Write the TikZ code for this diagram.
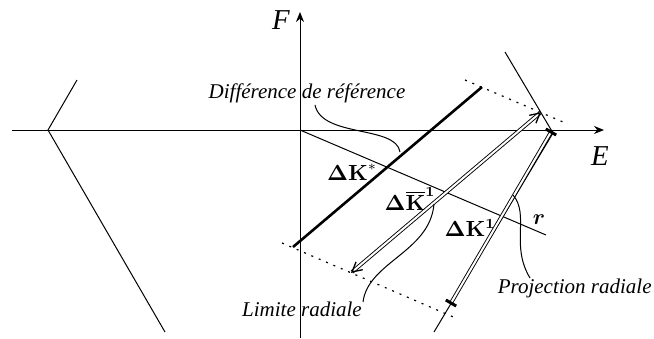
\documentclass[tikz,border=0pt]{standalone}
\usepackage{amsmath,bm}
\usepackage[no-math]{fontspec}
\setmainfont{Liberation Serif}
\usetikzlibrary{arrows.meta,calc}

\begin{document}
\begin{tikzpicture}[x=0.5pt, y=-0.5pt,
    axis/.style={line width=0.5pt, -{Stealth[length=5pt,width=4pt]}},
    guide/.style={line width=0.5pt},
    dotline/.style={line width=0.6pt, dash pattern=on 1pt off 3pt},
    vecline/.style={double, double distance=1pt, line width=0.45pt},
    chevron/.style={line width=0.65pt},
    leader/.style={line width=0.5pt},
    lbl/.style={font=\fontsize{10.5}{12}\selectfont\itshape, inner sep=0pt},
    axlbl/.style={font=\Large\itshape, inner sep=0pt},
    vlbl/.style={font=\fontsize{10.5}{12}\selectfont, inner sep=0pt},
    tickmark/.style={line width=1.5pt}]
  \useasboundingbox (0,0) rectangle (654,338);

  % Axes
  \coordinate (O) at (300,130);
  \coordinate (Ewest) at (12,130);
  \coordinate (Eeast) at (604,130);
  \coordinate (Fsouth) at (300,338);
  \coordinate (Fnorth) at (300,12);
  \draw[axis] (Ewest) -- (Eeast);
  \draw[axis] (Fsouth) -- (Fnorth);
  \node[axlbl] (labF) at (281,20) {F};
  \node[axlbl] (labE) at (600,156) {E};

  % Left and right boundaries
  \coordinate (Ltop) at (77,80);
  \coordinate (Lv) at (48,130);
  \coordinate (Lbot) at (165,332);
  \draw[guide] (Ltop) -- (Lv) -- (Lbot);
  \coordinate (Rtop) at (505,52);
  \coordinate (Rv) at (553,133);
  \coordinate (Rbot) at (434,332);
  \draw[guide] (Rtop) -- (Rv) -- (Rbot);

  % Radial direction
  \coordinate (Rend) at (546,235);
  \draw[guide] (O) -- (Rend);
  \node[vlbl] (labr) at (539,220) {$\bm{r}$};

  % Dotted limits
  \coordinate (Dta) at (465,80);
  \coordinate (Dtb) at (563,122);
  \coordinate (Dba) at (282,243);
  \coordinate (Dbb) at (458,319);
  \draw[dotline] (Dta) -- (Dtb);
  \draw[dotline] (Dba) -- (Dbb);

  % Reference difference
  \coordinate (Ks) at (293,247);
  \coordinate (Ke) at (482,87);
  \draw[line width=1.3pt] (Ks) -- (Ke);
  \node[vlbl] (labKs) at (352,172) {$\mathbf{\Delta K}^{*}$};

  % Radial limit vector
  \coordinate (Bs) at (352,272);
  \coordinate (Be) at (540,113);
  \draw[vecline] (Bs) -- (Be);
  \draw[chevron] ($(Be)!5.5pt!-28:(Bs)$) -- (Be) -- ($(Be)!5.5pt!28:(Bs)$);
  \draw[chevron] ($(Bs)!5.5pt!-28:(Be)$) -- (Bs) -- ($(Bs)!5.5pt!28:(Be)$);
  \node[vlbl] (labKb) at (410,199) {$\mathbf{\Delta\overline{K}^{1}}$};

  % Projected vector
  \coordinate (Ps) at (551,132);
  \coordinate (Pe) at (451,303);
  \draw[vecline] (Ps) -- (Pe);
  \draw[tickmark] ($(Ps)!3pt!90:(Pe)$) -- ($(Ps)!3pt!-90:(Pe)$);
  \draw[tickmark] ($(Pe)!3pt!90:(Ps)$) -- ($(Pe)!3pt!-90:(Ps)$);
  \node[vlbl] (labK1) at (470,228) {$\mathbf{\Delta K^{1}}$};

  % Labels with leaders
  \node[lbl] (labDiff) at (307,93) {Différence de référence};
  \coordinate (aDiff) at (315,105);
  \coordinate (bDiff) at (400,152);
  \draw[leader] (aDiff) .. controls (322,138) and (396,125) .. (bDiff);

  \node[lbl] (labLim) at (302,309) {Limite radiale};
  \coordinate (aLim) at (363,302);
  \coordinate (bLim) at (434,204);
  \draw[leader] (aLim) .. controls (368,262) and (430,252) .. (bLim);

  \node[lbl, anchor=east] (labProj) at (652,288) {Projection radiale};
  \coordinate (aProj) at (530,278);
  \coordinate (bProj) at (513,195);
  \draw[leader] (aProj) .. controls (510,245) and (530,215) .. (bProj);
\end{tikzpicture}
\end{document}
